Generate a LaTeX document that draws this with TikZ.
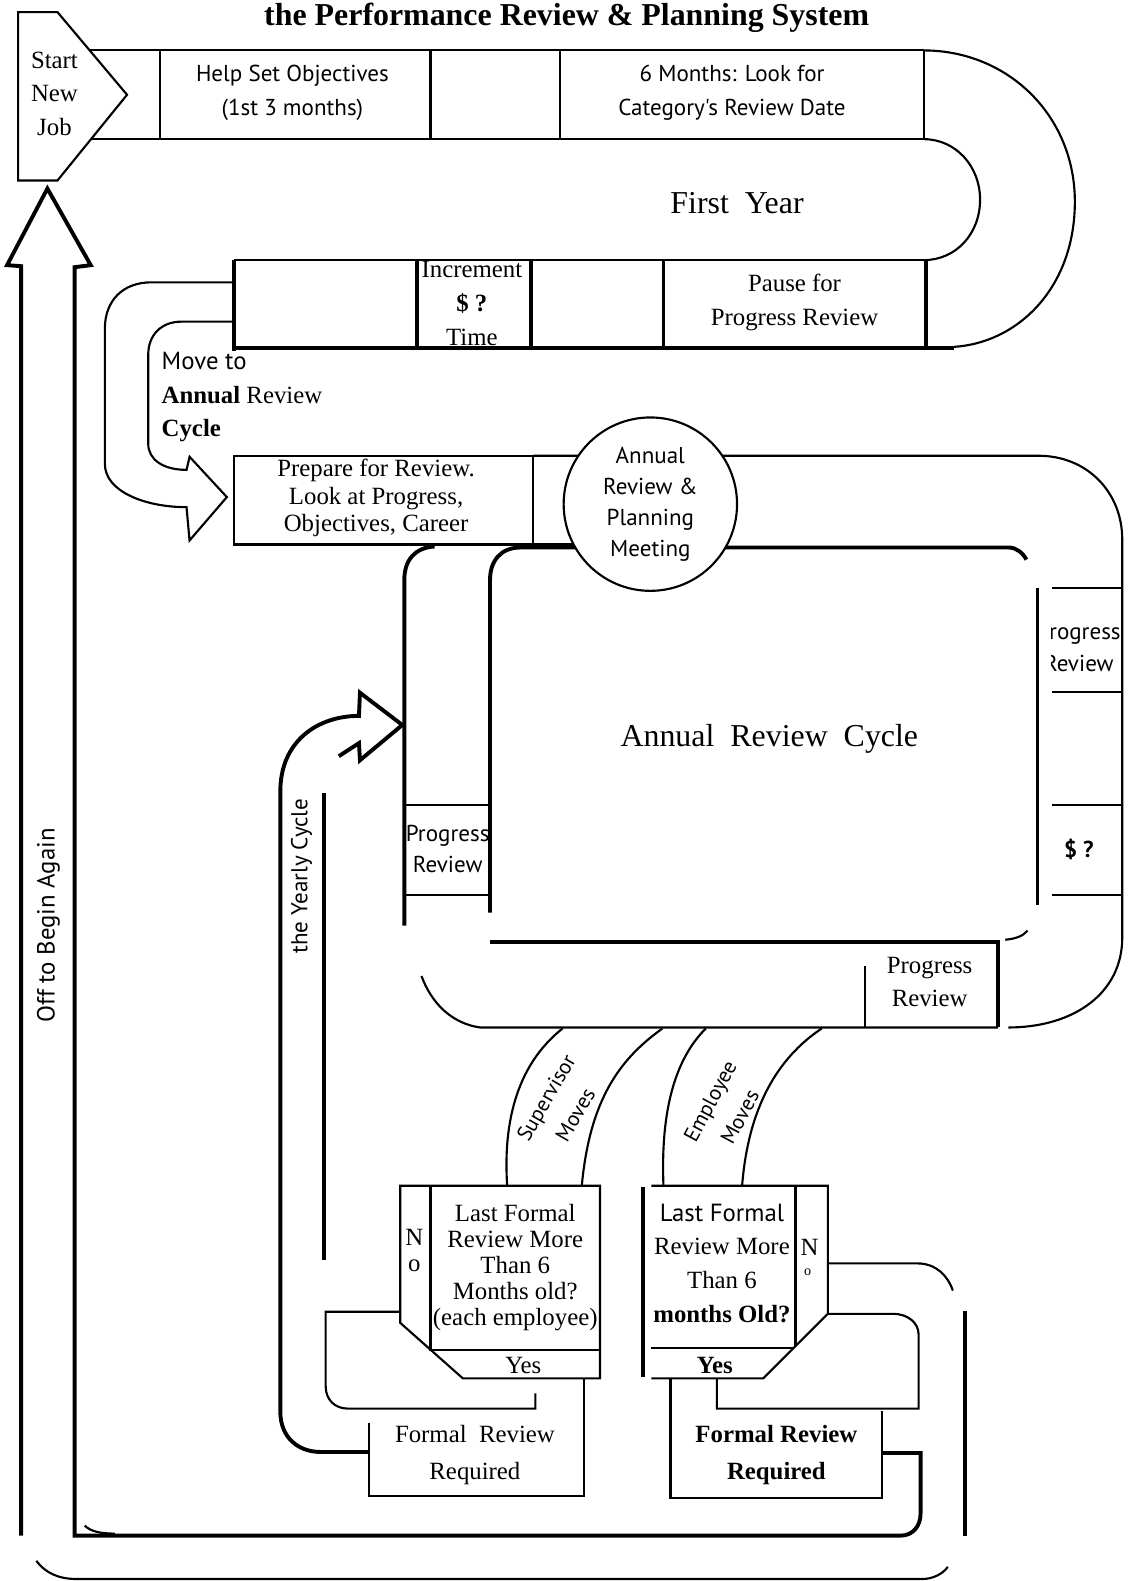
\documentclass[tikz,border=0pt]{standalone}
\usepackage{fontspec}
\setmainfont{Liberation Serif}
\newfontfamily\optfont{PT Sans}
\tikzset{track/.style={line width=1.2pt},
         heavy/.style={line width=2.2pt},
         tx/.style={font=\fontsize{14}{#1}\selectfont,inner sep=0pt,align=center},
         tx/.default=19pt,
         otx/.style={font=\optfont\fontsize{13}{#1}\selectfont,inner sep=0pt,align=center},
         otx/.default=19pt,
         slant/.style={font=\optfont\fontsize{12}{19}\selectfont,inner sep=0pt,align=center},
         big/.style={font=\fontsize{18}{21}\selectfont,inner sep=0pt},
            }
\begin{document}
\begin{tikzpicture}[x=0.02cm,y=-0.02cm]
    \useasboundingbox (0,0) rectangle (1118,1568);
    \node[font=\bfseries\fontsize{18}{21}\selectfont,anchor=base,inner sep=0pt] (title) at (562,25)
      {the Performance Review \& Planning System};

    % first year track
    \draw[track] (18,12) -- (57,12) -- (126,94) -- (57,179) -- (18,179) -- cycle;
    \node[tx] (start) at (54,93) {Start\\New\\Job};
    \draw[track] (89,50) -- (916,50);
    \draw[track] (90,138) -- (916,138);
    \draw[track] (159,50) -- (159,138) (427,50) -- (427,138)
                 (555,50) -- (555,138) (916,50) -- (916,138);
    \draw[track] (916,50) .. controls (1000,50) and (1066,115) .. (1066,200)
                 .. controls (1066,285) and (1010,340) .. (946,344);
    \draw[track] (916,138) .. controls (948,138) and (972,165) .. (972,198)
                 .. controls (972,232) and (948,258) .. (916,258);
    \draw[track] (232,258) -- (916,258);
    \draw[heavy] (232,345) -- (946,345);
    \draw[heavy] (232,258) -- (232,348) (414,258) -- (414,345)
                 (527,258) -- (527,345) (658,258) -- (658,345) (918,258) -- (918,345);
    \node[otx] (objectives) at (290,92) {Help Set Objectives\\(1st 3 months)};
    \node[otx] (reviewdate) at (726,92) {6 Months: Look for\\Category's Review Date};
    \node[big] (firstyear) at (731,201) {First\ \ Year};
    \node[tx] (increment) at (468,301) {Increment\\\textbf{\$ ?}\\Time};
    \node[tx] (pause) at (788,300) {Pause for\\Progress Review};

    % move to annual review cycle
    \draw[track] (232,280) -- (150,280) .. controls (122,280) and (104,298) .. (104,326)
      -- (104,460) .. controls (104,488) and (145,503) .. (185,503) -- (188,536) -- (225,493)
      -- (188,453) -- (185,466) .. controls (162,466) and (147,456) .. (147,440)
      -- (147,352) .. controls (147,332) and (160,319) .. (180,319) -- (232,319);
    \node[tx,anchor=west,align=left] (moveto) at (160,394)
      {{\optfont Move to}\\\textbf{Annual} Review\\\textbf{Cycle}};

    % annual review cycle ring
    \draw[track] (232,452) rectangle (529,540);
    \draw[track] (529,452) -- (1030,452) .. controls (1078,452) and (1113,488) .. (1113,535)
      -- (1113,930) .. controls (1113,985) and (1065,1019) .. (1000,1019);
    \draw[track] (529,540) -- (590,540);
    \draw[track] (990,1019) -- (476,1019) .. controls (448,1015) and (428,995) .. (418,968);
    \draw[heavy] (401,918) -- (401,575) .. controls (401,555) and (412,543) .. (431,542);
    \draw[heavy] (486,905) -- (486,575) .. controls (486,556) and (497,543) .. (516,543)
      -- (1000,543) .. controls (1008,543) and (1014,548) .. (1018,555);
    \draw[heavy] (1029,583) -- (1029,898);
    \draw[track] (997,932) .. controls (1008,931) and (1015,928) .. (1019,923);
    \draw[heavy] (486,934) -- (990,934) -- (990,1019);
    \draw[track] (858,958) -- (858,1019);
    \draw[track] (401,798) -- (486,798) (401,888) -- (486,888);
    \draw[track] (1043,583) -- (1113,583) (1043,686) -- (1113,686)
                 (1043,798) -- (1113,798) (1043,888) -- (1113,888);
    \node[tx=15.6pt] (prepare) at (373,494) {Prepare for Review.\\Look at Progress,\\Objectives, Career};
    \node[circle,draw,track,fill=white,minimum size=3.44cm,otx=17.6pt] (meeting) at (645,500)
      {Annual\\Review \&\\Planning\\Meeting};
    \node[big] (cycle) at (763,733) {Annual\ \ Review\ \ Cycle};
    \begin{scope}
      \clip (401,798) rectangle (486,888);
      \node[otx=18pt] (leftprogress) at (444,842) {Progress\\Review};
    \end{scope}
    \begin{scope}
      \clip (1043,583) rectangle (1113,686);
      \node[otx=18pt] (rightprogress) at (1070,642) {Progress\\Review};
    \end{scope}
    \node[otx,font=\optfont\bfseries\fontsize{13}{16}\selectfont] (dollar) at (1070,842) {\$ ?};
    \node[tx] (bottomprogress) at (922,974) {Progress\\Review};

    % the yearly cycle
    \draw[heavy] (366,1440) -- (318,1440) .. controls (295,1440) and (278,1425) .. (278,1400)
      -- (278,785) .. controls (278,735) and (315,710) .. (356,710) -- (357,687) -- (399,719)
      -- (357,754) -- (356,737) -- (336,750);
    \draw[heavy] (321,786) -- (321,1250);
    \node[otx,rotate=90] (yearly) at (299,869) {the Yearly Cycle};

    % supervisor moves
    \draw[track] (503,1176) .. controls (498,1100) and (520,1050) .. (558,1020);
    \draw[track] (577,1176) .. controls (585,1090) and (615,1050) .. (657,1020);
    \node[slant,rotate=60] (supervisor) at (556,1097) {Supervisor\\Moves};
    \draw[track] (397,1176) -- (595,1176) -- (595,1367) -- (459,1367) -- (397,1312) -- cycle;
    \draw[track] (427,1176) -- (427,1339) -- (595,1339);
    \draw[track] (397,1301) -- (323,1301) -- (323,1375) .. controls (323,1388) and (332,1397) .. (345,1397)
      -- (531,1397) -- (531,1382);
    \draw[track] (366,1411) -- (366,1484) -- (579,1484) -- (579,1367);
    \node[tx=14.7pt] (supquestion) at (511,1257)
      {Last Formal\\Review More\\Than 6\\Months old?\\(each employee)};
    \node[tx=14.7pt] (supno) at (411,1240) {N\\o};
    \node[tx] (supyes) at (519,1354) {Yes};
    \node[tx=20.4pt] (supformal) at (471,1443) {Formal\ \ Review\\Required};

    % employee moves
    \draw[track] (658,1176) .. controls (655,1100) and (670,1050) .. (700,1020);
    \draw[track] (736,1176) .. controls (742,1100) and (770,1050) .. (815,1020);
    \node[slant,rotate=62] (employee) at (719,1100) {Employee\\Moves};
    \draw[heavy] (638,1177) -- (638,1366);
    \draw[track] (646,1176) -- (821,1176) -- (821,1303) -- (757,1367) -- (646,1367);
    \draw[track] (789,1176) -- (789,1335) (646,1337) -- (787,1337);
    \draw[track] (821,1253) -- (910,1253) .. controls (928,1253) and (940,1265) .. (945,1280);
    \draw[track] (821,1303) -- (886,1303) .. controls (900,1303) and (911,1312) .. (911,1323)
      -- (911,1397) -- (711,1397) -- (711,1367);
    \draw[track] (665,1367) -- (665,1486) -- (875,1486) -- (875,1399);
    \node[tx] (emplast) at (716,1203) {\optfont Last Formal};
    \node[tx=19pt] (empquestion) at (716,1270) {Review More\\Than 6\\\textbf{months Old?}};
    \node[tx] (empno) at (803,1237) {N};
    \node[tx,font=\fontsize{8}{9}\selectfont] (empo) at (801,1262) {o};
    \node[tx,font=\bfseries\fontsize{14}{19}\selectfont] (empyes) at (709,1354) {Yes};
    \node[tx=20.4pt,font=\bfseries\fontsize{14}{20.4}\selectfont] (empformal) at (770,1443)
      {Formal Review\\Required};

    % off to begin again
    \draw[heavy] (21,1523) -- (21,264) -- (7,263) -- (47,187) -- (90,263) -- (74,265)
      -- (74,1523) -- (893,1523) .. controls (905,1523) and (913,1514) .. (913,1501)
      -- (913,1441) -- (875,1441);
    \draw[track] (84,1513) .. controls (90,1519) and (100,1521) .. (114,1521);
    \draw[heavy] (957,1300) -- (957,1523);
    \draw[track] (36,1548) .. controls (45,1560) and (58,1566) .. (76,1566) -- (915,1566)
      .. controls (925,1566) and (935,1561) .. (940,1554);
    \node[otx,font=\optfont\fontsize{14}{16}\selectfont,rotate=90] (offagain) at (48,918) {Off to Begin Again};
\end{tikzpicture}
\end{document}
